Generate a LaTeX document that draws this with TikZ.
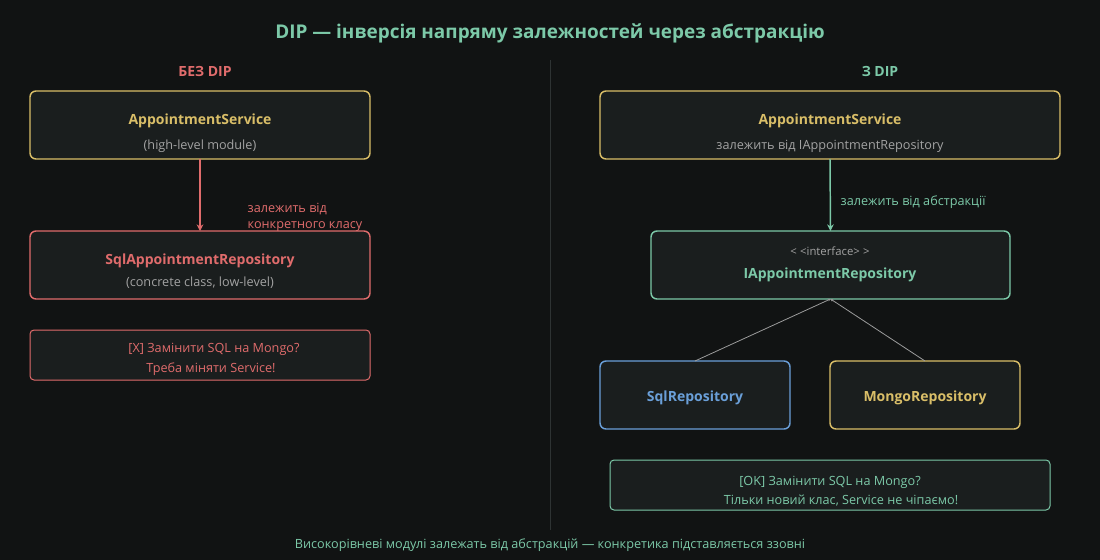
\documentclass[tikz,border=0pt]{standalone}
\usepackage{fontspec}
\setmainfont{Open Sans}
\usetikzlibrary{arrows.meta,positioning}
\definecolor{bgcol}{HTML}{111313}
\definecolor{boxcol}{HTML}{1A1E1E}
\definecolor{tealcol}{HTML}{7CC9A8}
\definecolor{yellowcol}{HTML}{D9BE68}
\definecolor{redcol}{HTML}{E06C6C}
\definecolor{bluecol}{HTML}{6A9FD8}
\definecolor{graytxt}{HTML}{A3A3A3}
\definecolor{linecol}{HTML}{9C9C9C}
\definecolor{divcol}{HTML}{2E3333}

\begin{document}
\begin{tikzpicture}[x=0.75pt,y=-0.75pt,
  classbox/.style={draw=#1,line width=1.1pt,rounded corners=4.5pt,fill=boxcol,inner sep=0pt,outer sep=0pt},
  notebox/.style={draw=#1,line width=0.75pt,rounded corners=3pt,fill=boxcol,inner sep=0pt,outer sep=0pt},
  clsname/.style={font=\bfseries\fontsize{10.5}{12}\selectfont,text=#1},
  subtxt/.style={font=\fontsize{9.5}{12}\selectfont,text=#1},
  dep/.style={-{Stealth[length=5pt,width=5pt]},line width=1.1pt,draw=#1},
  impl/.style={-{Stealth[length=2pt,width=2pt]},line width=0.6pt,draw=linecol}]
  % background and divider
  \fill[bgcol] (0,0) rectangle (1100,560);
  \draw[divcol,line width=0.75pt] (550,60) -- (550,530);
  \node[font=\bfseries\fontsize{14.2}{17}\selectfont,text=tealcol] (title) at (550,33) {DIP — інверсія напряму залежностей через абстракцію};
  \node[font=\bfseries\fontsize{10.5}{12}\selectfont,text=redcol] (headL) at (205,72) {БЕЗ DIP};
  \node[font=\bfseries\fontsize{10.5}{12}\selectfont,text=tealcol] (headR) at (880,72) {З DIP};
  % without DIP
  \node[classbox=yellowcol,minimum width=255pt,minimum height=51pt] (svcL) at (200,125) {};
  \node[clsname=yellowcol] (svcLname) at (200,121) {AppointmentService};
  \node[subtxt=graytxt] (svcLsub) at (200,146) {(high-level module)};
  \node[classbox=redcol,minimum width=255pt,minimum height=51pt] (repoL) at (200,265) {};
  \node[clsname=redcol] (repoLname) at (200,261) {SqlAppointmentRepository};
  \node[subtxt=graytxt] (repoLsub) at (200,283) {(concrete class, low-level)};
  \draw[dep=redcol] (svcL.south) -- (repoL.north);
  \node[subtxt=redcol,anchor=west,align=left] (depL) at (243,217) {залежить від\\конкретного класу};
  \node[notebox=redcol,minimum width=255pt,minimum height=37.5pt] (noteL) at (200,355) {};
  \node[subtxt=redcol] (noteL1) at (214,349) {[X] Замінити SQL на Mongo?};
  \node[subtxt=redcol] (noteL2) at (211,369) {Треба міняти Service!};
  % with DIP
  \node[classbox=yellowcol,minimum width=345pt,minimum height=51pt] (svcR) at (830,125) {};
  \node[clsname=yellowcol] (svcRname) at (830,121) {AppointmentService};
  \node[subtxt=graytxt] (svcRsub) at (830,146) {залежить від IAppointmentRepository};
  \node[classbox=tealcol,minimum width=269.25pt,minimum height=51pt] (iface) at (830.5,265) {};
  \node[text=graytxt,font=\fontsize{8.5}{10}\selectfont] (ifacetag) at (830,251) {<\kern2.5pt<interface>\kern2.5pt>};
  \node[clsname=tealcol] (ifacename) at (830,275) {IAppointmentRepository};
  \draw[dep=tealcol] (svcR.south) -- (iface.north);
  \node[subtxt=tealcol,anchor=west] (depR) at (836,202) {залежить від абстракції};
  \node[classbox=bluecol,minimum width=142.5pt,minimum height=51pt] (sqlR) at (695,395) {};
  \node[clsname=bluecol] (sqlRname) at (695,398) {SqlRepository};
  \node[classbox=yellowcol,minimum width=142.5pt,minimum height=51pt] (mongoR) at (925,395) {};
  \node[clsname=yellowcol] (mongoRname) at (925,398) {MongoRepository};
  \draw[impl] (sqlR.north) -- (iface.south);
  \draw[impl] (mongoR.north) -- (iface.south);
  \node[notebox=tealcol,minimum width=330pt,minimum height=37.5pt] (noteR) at (830,485) {};
  \node[subtxt=tealcol] (noteR1) at (830,482) {[OK] Замінити SQL на Mongo?};
  \node[subtxt=tealcol] (noteR2) at (841,501) {Тільки новий клас, Service не чіпаємо!};
  % footer
  \node[subtxt=tealcol] (footer) at (550,545) {Високорівневі модулі залежать від абстракцій — конкретика підставляється ззовні};
\end{tikzpicture}
\end{document}
